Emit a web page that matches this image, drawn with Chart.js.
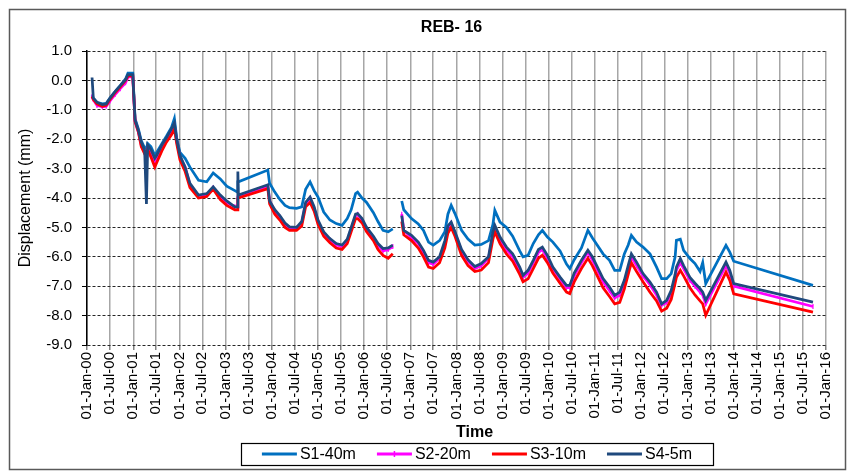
<!DOCTYPE html>
<html>
<head>
<meta charset="utf-8">
<script src="https://cdn.jsdelivr.net/npm/chart.js@4.4.1/dist/chart.umd.min.js"></script>
<style>
  html, body { margin: 0; padding: 0; background: #fff; }
  #wrap { width: 852px; height: 473px; }
</style>
</head>
<body>
<div id="wrap"><canvas id="rebChart"></canvas></div>
<script>
// Readings (mm) per survey date
var dates = [
  "2000-02-10", "2000-02-20", "2000-03-20", "2000-05-01", "2000-06-01", "2000-07-01", "2000-08-10", "2000-09-20",
  "2000-11-01", "2000-11-20", "2000-12-28", "2001-01-15", "2001-02-10", "2001-03-05", "2001-04-01", "2001-04-15",
  "2001-04-25", "2001-05-20", "2001-06-20", "2001-07-05", "2001-08-15", "2001-09-20", "2001-10-30", "2001-11-22",
  "2001-12-10", "2002-01-05", "2002-02-15", "2002-03-25", "2002-06-01", "2002-08-05", "2002-09-25", "2002-11-20",
  "2003-01-10", "2003-03-15", "2003-04-05", "2003-04-08", "2003-04-12", "2003-12-01", "2003-12-15", "2004-01-25",
  "2004-03-05", "2004-04-15", "2004-05-20", "2004-07-15", "2004-08-25", "2004-09-25", "2004-10-30", "2004-12-01",
  "2005-01-01", "2005-02-15", "2005-04-05", "2005-05-25", "2005-07-10", "2005-08-20", "2005-09-20", "2005-10-25",
  "2005-11-10", "2005-12-15", "2006-01-20", "2006-03-15", "2006-04-20", "2006-05-30", "2006-07-10", "2006-08-15",
  "2006-09-15", "2006-10-25", "2006-11-10", "2007-01-10", "2007-03-05", "2007-04-15", "2007-05-25", "2007-07-01",
  "2007-08-20", "2007-10-01", "2007-10-25", "2007-11-20", "2007-12-20", "2008-02-10", "2008-04-01", "2008-05-25",
  "2008-07-15", "2008-09-10", "2008-10-15", "2008-10-30", "2008-12-10", "2009-01-30", "2009-03-20", "2009-05-15",
  "2009-06-10", "2009-07-20", "2009-08-30", "2009-10-10", "2009-11-10", "2009-12-20", "2010-02-01", "2010-03-30",
  "2010-05-20", "2010-06-15", "2010-07-20", "2010-09-15", "2010-11-05", "2010-12-10", "2011-03-05", "2011-04-25",
  "2011-06-05", "2011-07-15", "2011-08-20", "2011-09-20", "2011-10-15", "2011-11-25", "2012-01-15", "2012-03-10",
  "2012-05-01", "2012-06-10", "2012-07-20", "2012-08-25", "2012-09-25", "2012-10-05", "2012-11-05", "2012-12-01",
  "2013-01-20", "2013-03-01", "2013-04-10", "2013-05-01", "2013-05-25", "2013-11-01", "2013-12-01", "2014-01-01",
  "2015-09-20"
];

var s1 = [
  -0.50, -0.60, -0.75, -0.80, -0.78, -0.60, -0.38, -0.18,
  0.05, 0.25, 0.25, -1.30, -1.65, -2.05, -2.30, -2.30,
  -2.15, -2.25, -2.55, -2.45, -2.15, -1.90, -1.60, -1.30,
  -1.95, -2.45, -2.65, -2.95, -3.40, -3.45, -3.15, -3.35,
  -3.60, -3.75, -3.80, -3.45, -3.45, -3.05, -3.50, -3.80,
  -4.05, -4.25, -4.33, -4.35, -4.30, -3.70, -3.45, -3.75,
  -3.97, -4.48, -4.75, -4.87, -4.93, -4.70, -4.40, -3.85,
  -3.80, -4.00, -4.15, -4.50, -4.80, -5.10, -5.15, -5.05,
  null, -4.10, -4.40, -4.70, -4.88, -5.10, -5.50, -5.60,
  -5.45, -5.15, -4.55, -4.25, -4.53, -5.10, -5.40, -5.60,
  -5.58, -5.45, -4.90, -4.42, -4.82, -5.00, -5.30, -5.80,
  -6.00, -5.95, -5.55, -5.25, -5.10, -5.33, -5.50, -5.80,
  -6.25, -6.40, -6.10, -5.70, -5.10, -5.35, -5.90, -6.12,
  -6.46, -6.46, -5.90, -5.60, -5.27, -5.50, -5.67, -5.90,
  -6.35, -6.74, -6.74, -6.57, -6.00, -5.44, -5.40, -5.78,
  -6.06, -6.23, -6.50, -6.20, -6.91, -5.61, -5.84, -6.15,
  -6.97
];

var s2 = [
  -0.55, -0.65, -0.85, -0.90, -0.88, -0.70, -0.48, -0.28,
  -0.08, 0.12, 0.12, -1.40, -1.75, -2.20, -2.45, -2.45,
  -2.30, -2.45, -2.75, -2.65, -2.30, -2.05, -1.75, -1.55,
  -2.05, -2.60, -2.95, -3.55, -3.95, -3.90, -3.65, -3.95,
  -4.15, -4.30, -4.30, -3.95, -3.92, -3.60, -4.10, -4.45,
  -4.65, -4.90, -5.02, -5.02, -4.85, -4.20, -4.00, -4.35,
  -4.80, -5.20, -5.42, -5.60, -5.65, -5.45, -5.05, -4.60,
  -4.55, -4.75, -5.05, -5.35, -5.60, -5.80, -5.75, -5.65,
  null, -4.55, -5.10, -5.35, -5.55, -5.85, -6.20, -6.25,
  -6.05, -5.55, -5.00, -4.85, -5.20, -5.80, -6.15, -6.40,
  -6.30, -6.05, -5.25, -5.00, -5.40, -5.75, -6.00, -6.45,
  -6.70, -6.55, -6.20, -5.85, -5.75, -6.05, -6.40, -6.75,
  -7.05, -7.05, -6.65, -6.20, -5.85, -6.10, -6.85, -7.15,
  -7.40, -7.30, -6.90, -6.40, -6.00, -6.30, -6.65, -6.95,
  -7.30, -7.65, -7.55, -7.25, -6.70, -6.45, -6.20, -6.40,
  -6.80, -7.00, -7.20, -7.30, -7.60, -6.30, -6.55, -7.00,
  -7.69
];

var s3 = [
  -0.55, -0.65, -0.80, -0.88, -0.85, -0.65, -0.42, -0.22,
  0.00, 0.15, 0.15, -1.40, -1.75, -2.25, -2.50, -2.50,
  -2.35, -2.60, -2.95, -2.80, -2.40, -2.10, -1.85, -1.65,
  -2.15, -2.70, -3.10, -3.65, -4.00, -3.95, -3.70, -4.05,
  -4.25, -4.40, -4.40, -4.02, -4.00, -3.68, -4.20, -4.55,
  -4.75, -5.00, -5.10, -5.10, -4.95, -4.30, -4.15, -4.45,
  -4.90, -5.30, -5.52, -5.70, -5.75, -5.55, -5.15, -4.70,
  -4.70, -4.85, -5.15, -5.45, -5.75, -5.95, -6.05, -5.90,
  null, -4.80, -5.25, -5.45, -5.70, -6.00, -6.35, -6.40,
  -6.20, -5.70, -5.20, -5.00, -5.30, -5.95, -6.30, -6.50,
  -6.45, -6.20, -5.40, -5.15, -5.55, -5.90, -6.15, -6.60,
  -6.85, -6.75, -6.40, -6.05, -5.95, -6.20, -6.55, -6.90,
  -7.20, -7.25, -6.85, -6.40, -6.05, -6.30, -7.05, -7.35,
  -7.60, -7.55, -7.10, -6.60, -6.20, -6.50, -6.85, -7.20,
  -7.50, -7.85, -7.75, -7.45, -6.90, -6.70, -6.46, -6.65,
  -7.05, -7.30, -7.50, -7.60, -7.99, -6.52, -6.80, -7.26,
  -7.88
];

var s4 = [
  0.10, -0.60, -0.75, -0.82, -0.80, -0.60, -0.38, -0.18,
  0.02, 0.20, 0.20, -1.35, -1.70, -2.10, -2.38, -4.20,
  -2.20, -2.35, -2.65, -2.55, -2.20, -1.95, -1.65, -1.45,
  -2.00, -2.55, -2.95, -3.50, -3.90, -3.85, -3.62, -3.90,
  -4.10, -4.30, -4.30, -3.10, -3.90, -3.55, -4.10, -4.40,
  -4.60, -4.85, -4.98, -5.00, -4.80, -4.15, -3.97, -4.30,
  -4.75, -5.15, -5.38, -5.55, -5.60, -5.40, -5.00, -4.55,
  -4.53, -4.70, -5.00, -5.30, -5.55, -5.72, -5.70, -5.60,
  null, -4.60, -5.10, -5.27, -5.50, -5.78, -6.12, -6.18,
  -6.00, -5.45, -4.95, -4.82, -5.15, -5.75, -6.10, -6.33,
  -6.23, -6.00, -5.15, -4.93, -5.33, -5.67, -5.90, -6.35,
  -6.63, -6.46, -6.12, -5.75, -5.67, -5.95, -6.35, -6.69,
  -6.97, -6.97, -6.55, -6.12, -5.78, -6.00, -6.74, -7.03,
  -7.31, -7.20, -6.80, -6.29, -5.90, -6.18, -6.57, -6.86,
  -7.20, -7.60, -7.48, -7.14, -6.60, -6.35, -6.06, -6.30,
  -6.70, -6.90, -7.08, -7.20, -7.48, -6.18, -6.46, -6.91,
  -7.54
];

var seriesNames = ["S1-40m", "S2-20m", "S3-10m", "S4-5m"];
var seriesColors = ["#0070C0", "#FF00FF", "#FF0000", "#1F497D"];
var monthNames = ["Jan", "Feb", "Mar", "Apr", "May", "Jun", "Jul", "Aug", "Sep", "Oct", "Nov", "Dec"];
var firstYear = 2000, lastYear = 2016;
var chartTitle = "REB- 16";
var xTitle = "Time";

var origin = Date.parse("2000-01-01");
function toDay(s) { return (Date.parse(s) - origin) / 864e5; }

function points(values) {
  return dates.map(function (d, i) { return { x: toDay(d), y: values[i] }; });
}

var fontFamily = "'Liberation Sans', Arial, sans-serif";
Chart.defaults.font.family = fontFamily;
Chart.defaults.color = "#000";

// white page, frame round the whole chart
var framePlugin = {
  id: "frame",
  beforeDraw: function (chart) {
    var ctx = chart.ctx;
    ctx.save();
    ctx.fillStyle = "#fff";
    ctx.fillRect(0, 0, chart.width, chart.height);
    ctx.strokeStyle = "#595959";
    ctx.lineWidth = 1.5;
    ctx.strokeRect(9.5, 9.5, 836, 460);
    ctx.restore();
  }
};

// titles placed like the Excel original (a bit right of the canvas centre)
var titlesPlugin = {
  id: "titles",
  afterDraw: function (chart) {
    var ctx = chart.ctx, area = chart.chartArea;
    ctx.save();
    ctx.fillStyle = "#000";
    ctx.textAlign = "center";
    ctx.textBaseline = "middle";
    ctx.font = "bold 16px " + fontFamily;
    ctx.fillText(chartTitle, (area.left + area.right) / 2 - 5, 28);
    ctx.font = "bold 16px " + fontFamily;
    ctx.fillText(xTitle, (area.left + area.right) / 2 + 18, 433);
    ctx.restore();
  }
};

// boxed legend under the x axis title
var boxLegendPlugin = {
  id: "boxLegend",
  afterDraw: function (chart) {
    var ctx = chart.ctx;
    var sets = chart.data.datasets;
    var lineLen = 35, textGap = 3, itemGap = 21, pad = 21, cy = 454;
    ctx.save();
    ctx.font = "16px " + fontFamily;
    var widths = sets.map(function (ds) { return lineLen + textGap + ctx.measureText(ds.label).width; });
    var total = widths.reduce(function (a, b) { return a + b; }, 0) + itemGap * (sets.length - 1);
    var x = 477 - total / 2;
    ctx.strokeStyle = "#000";
    ctx.lineWidth = 1.2;
    ctx.strokeRect(Math.round(x - pad) + 0.5, 443.5, Math.round(total + 2 * pad), 22);
    sets.forEach(function (ds, i) {
      ctx.strokeStyle = ds.borderColor;
      ctx.lineWidth = 3;
      ctx.beginPath();
      ctx.moveTo(x, cy);
      ctx.lineTo(x + lineLen, cy);
      ctx.stroke();
      if (ds.pointRadius > 0) {
        ctx.lineWidth = 1.5;
        ctx.beginPath();
        ctx.moveTo(x + lineLen / 2, cy - 3);
        ctx.lineTo(x + lineLen / 2, cy + 3);
        ctx.stroke();
      }
      ctx.fillStyle = "#000";
      ctx.textBaseline = "middle";
      ctx.fillText(ds.label, x + lineLen + textGap, cy + 1);
      x += widths[i] + itemGap;
    });
    ctx.restore();
  }
};

function makeSet(i, values, drawOrder) {
  return {
    label: seriesNames[i],
    data: points(values),
    borderColor: seriesColors[i],
    backgroundColor: seriesColors[i],
    borderWidth: 2.75,
    pointRadius: 0,
    tension: 0,
    spanGaps: false,
    order: drawOrder
  };
}

var set2 = makeSet(1, s2, 3);
set2.pointRadius = 2.5;
set2.pointStyle = "line";
set2.rotation = 90;
set2.pointBorderWidth = 1.2;
set2.pointBorderColor = seriesColors[1];

new Chart("rebChart", {
  type: "line",
  data: {
    datasets: [makeSet(0, s1, 4), set2, makeSet(2, s3, 2), makeSet(3, s4, 1)]
  },
  plugins: [framePlugin, titlesPlugin, boxLegendPlugin],
  options: {
    responsive: true,
    maintainAspectRatio: false,
    animation: false,
    events: [],
    layout: { padding: { left: 10, right: 26, top: 51, bottom: 31 } },
    plugins: {
      legend: { display: false },
      tooltip: { enabled: false },
      title: { display: false }
    },
    scales: {
      x: {
        type: "linear",
        min: toDay(firstYear + "-01-01"),
        max: toDay(lastYear + "-01-01"),
        afterFit: function (scale) { scale.height = 97; },
        afterBuildTicks: function (scale) {
          var t = [];
          for (var y = firstYear; y <= lastYear; y++) {
            t.push({ value: toDay(y + "-01-01") });
            if (y < lastYear) t.push({ value: toDay(y + "-07-01") });
          }
          scale.ticks = t;
        },
        ticks: {
          autoSkip: false,
          minRotation: 90,
          maxRotation: 90,
          padding: 2,
          font: { size: 15 },
          callback: function (v) {
            var d = new Date(origin + v * 864e5);
            return "01-" + monthNames[d.getUTCMonth()] + "-" + String(d.getUTCFullYear()).slice(2);
          }
        },
        grid: { color: "#a6a6a6", lineWidth: 1.5, tickLength: 5, tickColor: "#808080" },
        border: { display: false },
        title: { display: false }
      },
      y: {
        min: -9,
        max: 1,
        afterFit: function (scale) { scale.width = 77; },
        ticks: {
          stepSize: 1,
          padding: 10,
          font: { size: 15 },
          callback: function (v) { return v.toFixed(1); }
        },
        grid: { color: "#262626", lineWidth: 1, tickLength: 5, tickColor: "#000", tickBorderDash: [] },
        border: { display: true, color: "#000", width: 1.5, dash: [3, 2] },
        title: {
          display: true,
          text: "Displacement (mm)",
          font: { size: 16 },
          padding: { top: 6, bottom: 0 }
        }
      }
    }
  }
});
</script>
</body>
</html>
